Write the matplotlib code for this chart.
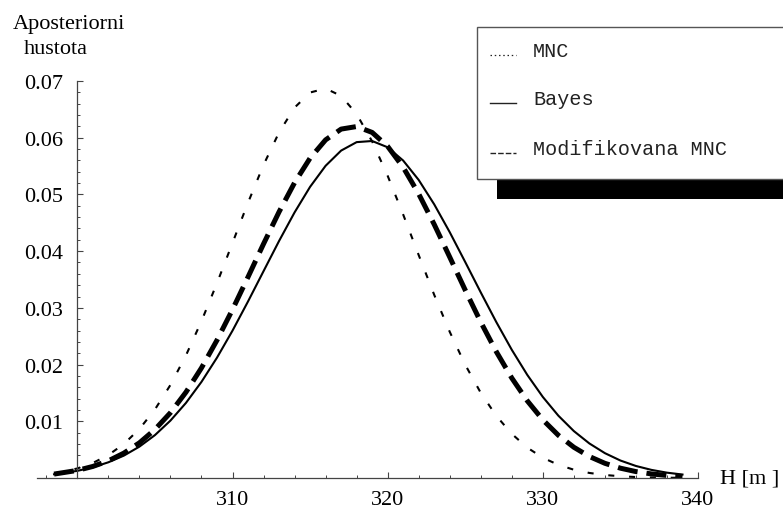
import numpy as np
import matplotlib
matplotlib.use("Agg")
from matplotlib import pyplot as plt
from matplotlib.patches import Rectangle
from matplotlib.lines import Line2D

# Values (posterior densities)
h = [298.5, 300, 301, 302, 303, 304, 305, 306, 307, 308, 309, 310, 311, 312, 313,
     314, 315, 316, 317, 318, 319, 320, 321, 322, 323, 324, 325, 326, 327, 328,
     329, 330, 331, 332, 333, 334, 335, 336, 337, 338, 339]

mnc = [0.00081, 0.00168, 0.00265, 0.00405, 0.00600, 0.00864, 0.01208, 0.01641,
       0.02162, 0.02766, 0.03436, 0.04145, 0.04855, 0.05520, 0.06094, 0.06531,
       0.06797, 0.06868, 0.06737, 0.06417, 0.05934, 0.05328, 0.04645, 0.03930,
       0.03229, 0.02577, 0.01996, 0.01501, 0.01096, 0.00778, 0.00535, 0.00357,
       0.00232, 0.00146, 0.00089, 0.00053, 0.00031, 0.00017, 0.00009, 0.00005,
       0.00003]

bayes = [0.00066, 0.00126, 0.00189, 0.00277, 0.00395, 0.00553, 0.00756, 0.01012,
         0.01324, 0.01695, 0.02122, 0.02598, 0.03113, 0.03647, 0.04179, 0.04683,
         0.05134, 0.05505, 0.05773, 0.05922, 0.05942, 0.05831, 0.05597, 0.05255,
         0.04825, 0.04334, 0.03807, 0.03272, 0.02750, 0.02260, 0.01817, 0.01429,
         0.01099, 0.00827, 0.00609, 0.00438, 0.00308, 0.00212, 0.00143, 0.00094,
         0.00061]

mod_mnc = [0.00069, 0.00134, 0.00204, 0.00303, 0.00439, 0.00620, 0.00855, 0.01151,
           0.01513, 0.01941, 0.02430, 0.02970, 0.03544, 0.04128, 0.04692, 0.05207,
           0.05640, 0.05962, 0.06152, 0.06197, 0.06093, 0.05847, 0.05478, 0.05009,
           0.04471, 0.03895, 0.03312, 0.02749, 0.02228, 0.01762, 0.01360, 0.01025,
           0.00754, 0.00542, 0.00379, 0.00259, 0.00173, 0.00113, 0.00072, 0.00045,
           0.00027]

x_major = [310, 320, 330, 340]
x_minor = [298, 302, 304, 306, 308, 312, 314, 316, 318, 322, 324, 326, 328,
           332, 334, 336, 338]
y_major = [0.01, 0.02, 0.03, 0.04, 0.05, 0.06, 0.07]
y_minor = [0.002, 0.004, 0.006, 0.008, 0.012, 0.014, 0.016, 0.018, 0.022, 0.024,
           0.026, 0.028, 0.032, 0.034, 0.036, 0.038, 0.042, 0.044, 0.046, 0.048,
           0.052, 0.054, 0.056, 0.058, 0.062, 0.064, 0.066, 0.068]
legend_labels = ["MNC", "Bayes", "Modifikovana MNC"]

W, H = 783, 510
serif = "Liberation Serif"
mono = "Liberation Mono"

fig = plt.figure(figsize=(W / 100, H / 100), dpi=100)
# axes placed so that H=297.4..340 and density 0..0.07 fall where the reference draws them
ax = fig.add_axes([37 / W, 1 - 479 / H, (698 - 37) / W, (479 - 82) / H])
ax.set_xlim(297.4, 340)
ax.set_ylim(0, 0.07)

ax.plot(h, mnc, color="black", lw=1.5, dashes=(2.9, 7.1), solid_capstyle="butt",
        dash_capstyle="butt", clip_on=False)
ax.plot(h, bayes, color="black", lw=1.5, clip_on=False)
ax.plot(h, mod_mnc, color="black", lw=3.6, dashes=(4.0, 1.8),
        dash_capstyle="butt", clip_on=False)

for s in ["top", "right"]:
    ax.spines[s].set_visible(False)
ax.spines["left"].set_position(("data", 300))
for s in ["left", "bottom"]:
    ax.spines[s].set_color("#444444")
    ax.spines[s].set_linewidth(0.9)

ax.set_xticks(x_major)
ax.set_xticks(x_minor, minor=True)
ax.set_yticks(y_major)
ax.set_yticks(y_minor, minor=True)
ax.set_yticklabels(["%.2f" % v for v in y_major])
ax.tick_params(which="both", direction="in", colors="#444444", labelcolor="black")
ax.tick_params(which="major", length=4, width=0.8)
ax.tick_params(which="minor", length=2.2, width=0.7)
ax.tick_params(axis="x", which="major", pad=9)
ax.tick_params(axis="y", which="major", pad=10)
for lab in ax.get_xticklabels() + ax.get_yticklabels():
    lab.set_fontfamily(serif)
    lab.set_fontsize(16)

# axis titles
fig.text(13 / W, 1 - 29 / H, "Aposteriorni", family=serif, fontsize=16,
         ha="left", va="baseline")
fig.text(24 / W, 1 - 54 / H, "hustota", family=serif, fontsize=16,
         ha="left", va="baseline")
fig.text(720 / W, 1 - 484 / H, "H [m ]", family=serif, fontsize=16,
         ha="left", va="baseline")

# legend box with drop shadow, drawn in pixel coordinates
ov = fig.add_axes([0, 0, 1, 1], zorder=5)
ov.set_xlim(0, W)
ov.set_ylim(H, 0)
ov.axis("off")
ov.add_patch(Rectangle((497, 180), 300, 20, facecolor="black", edgecolor="none"))
ov.add_patch(Rectangle((477, 28), 320, 152, facecolor="white",
                       edgecolor="#555555", lw=1.0))

rows_y = [57, 105, 155]
samples = [dict(lw=0.9, dashes=(1.2, 2.2)),
           dict(lw=1.0),
           dict(lw=1.0, dashes=(4, 1.5))]
for lab, yy, st in zip(legend_labels, rows_y, samples):
    ov.add_line(Line2D([490, 516], [yy - 1, yy - 1], color="#222222", **st))
    ov.text(533, yy, lab, family=mono, fontsize=14.5, color="#222222",
            ha="left", va="baseline")

fig.savefig("out.png", dpi=100)
